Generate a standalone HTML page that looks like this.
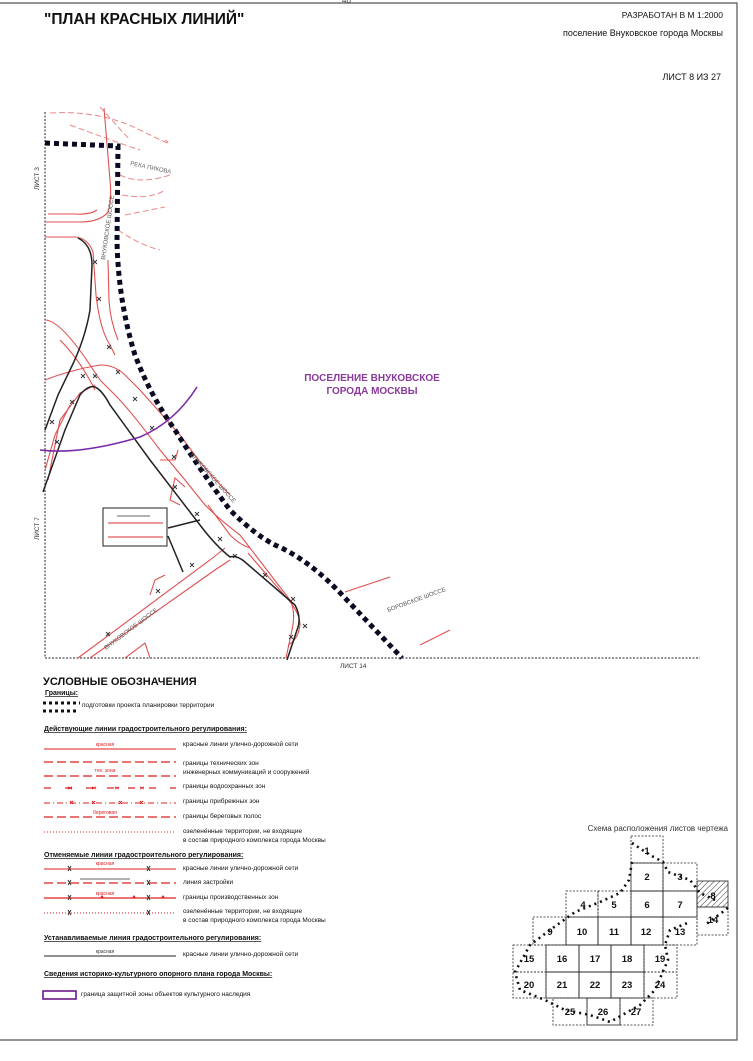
<!DOCTYPE html>
<html><head><meta charset="utf-8"><style>
body{margin:0;background:#fff;width:753px;height:1061px;overflow:hidden}
svg{display:block}
text{font-family:"Liberation Sans",sans-serif}
</style></head><body>
<svg width="753" height="1061" viewBox="0 0 753 1061" xmlns="http://www.w3.org/2000/svg">
<!-- page border -->
<path d="M0 3 H737 V1040 H0" fill="none" stroke="#555" stroke-width="1.2"/>
<text x="342" y="3" font-size="8" fill="#444">40</text>
<!-- header -->
<text x="44" y="24" font-size="15.5" font-weight="bold" fill="#111">"ПЛАН КРАСНЫХ ЛИНИЙ"</text>
<text x="723" y="18" font-size="8.5" text-anchor="end" fill="#111">РАЗРАБОТАН В М 1:2000</text>
<text x="723" y="36" font-size="9" text-anchor="end" fill="#111">поселение Внуковское города Москвы</text>
<text x="721" y="80" font-size="9" text-anchor="end" fill="#111">ЛИСТ 8 ИЗ 27</text>

<!-- map frame -->
<line x1="45" y1="112" x2="45" y2="658" stroke="#222" stroke-width="1" stroke-dasharray="2,1.5"/>
<line x1="45" y1="658" x2="700" y2="658" stroke="#222" stroke-width="1" stroke-dasharray="2,1.5"/>
<text transform="translate(39,190) rotate(-90)" font-size="6.5" fill="#333">ЛИСТ 3</text>
<text transform="translate(39,540) rotate(-90)" font-size="6.5" fill="#333">ЛИСТ 7</text>
<text x="340" y="668" font-size="6.5" fill="#333">ЛИСТ 14</text>

<!-- faint background red dashed lines top -->
<g fill="none" stroke="#e88" stroke-width="1" stroke-dasharray="6,3">
<path d="M50 113 Q100 110 140 130 T165 140"/>
<path d="M70 125 Q110 140 140 150"/>
<path d="M120 175 Q140 185 170 175"/>
<path d="M122 195 Q150 200 165 190"/>
<path d="M125 215 Q150 210 165 207"/>
<path d="M118 230 Q140 245 160 250"/>
<path d="M100 107 L130 140"/>
</g>
<g fill="none" stroke="#e05050" stroke-width="1.1">
<path d="M104 108 L110 180 Q112 200 108 212 Q100 222 80 222 H45"/>
<path d="M97 210 Q90 215 75 214 H48"/>
<path d="M45 237 H75 Q88 238 93 252 L96 295 Q100 330 110 345 L115 355"/>
<path d="M108 260 L109 300 Q110 320 118 340"/>
<path d="M45 320 Q60 320 90 365 L100 380 L115 395 Q130 410 160 450 L185 480 L205 505 Q220 520 240 535"/>
<path d="M60 340 Q80 360 95 390"/>
<path d="M45 380 Q70 370 100 365 Q115 365 125 375 L140 390 L180 435 L200 462 Q215 480 230 495"/>
<path d="M48 480 L60 420 L80 393 L95 385"/>
<path d="M45 470 L55 435 L70 405"/>
<path d="M185 487 L175 478 L170 500 L180 505"/>
<path d="M160 460 L175 460 L178 450"/>
<path d="M208 505 L230 535 Q240 545 250 548"/>
<path d="M240 535 L290 600 Q296 612 292 630 L286 658"/>
<path d="M248 553 L285 596 Q300 612 300 625 Q298 640 288 645"/>
<path d="M78 658 L210 560 L225 548"/>
<path d="M90 658 L215 570 L230 560"/>
<path d="M150 595 L155 580 L165 575"/>
<path d="M125 658 L145 643 L150 658"/>
<path d="M345 592 L390 577"/>
<path d="M420 645 Q440 635 450 630"/>
</g>
<!-- x marks -->
<g stroke="#333" stroke-width="0.9">
<path d="M93 260 l4 4 m0 -4 l-4 4"/><path d="M97 297 l4 4 m0 -4 l-4 4"/><path d="M107 345 l4 4 m0 -4 l-4 4"/>
<path d="M81 374 l4 4 m0 -4 l-4 4"/><path d="M93 374 l4 4 m0 -4 l-4 4"/><path d="M116 370 l4 4 m0 -4 l-4 4"/>
<path d="M50 420 l4 4 m0 -4 l-4 4"/><path d="M55 440 l4 4 m0 -4 l-4 4"/><path d="M70 400 l4 4 m0 -4 l-4 4"/>
<path d="M133 397 l4 4 m0 -4 l-4 4"/><path d="M150 426 l4 4 m0 -4 l-4 4"/><path d="M172 455 l4 4 m0 -4 l-4 4"/>
<path d="M173 485 l4 4 m0 -4 l-4 4"/><path d="M195 512 l4 4 m0 -4 l-4 4"/><path d="M218 537 l4 4 m0 -4 l-4 4"/>
<path d="M233 554 l4 4 m0 -4 l-4 4"/><path d="M263 573 l4 4 m0 -4 l-4 4"/><path d="M291 597 l4 4 m0 -4 l-4 4"/>
<path d="M303 624 l4 4 m0 -4 l-4 4"/><path d="M289 635 l4 4 m0 -4 l-4 4"/><path d="M190 563 l4 4 m0 -4 l-4 4"/>
<path d="M156 589 l4 4 m0 -4 l-4 4"/><path d="M106 632 l4 4 m0 -4 l-4 4"/>
</g>
<!-- black lines -->
<g fill="none" stroke="#222" stroke-width="1.5">
<path d="M78 238 Q92 245 92 265 L90 310 Q85 340 70 370 L58 395 L45 430"/>
<path d="M43 492 L65 430 L80 395 Q88 385 95 387 Q102 390 110 405 L150 460 L200 525 Q215 545 230 557 Q237 555 245 562 L295 605 Q302 618 297 630 L287 660"/>
<path d="M168 528 L200 520"/><path d="M168 536 L183 572"/>
</g>
<!-- purple -->
<path d="M40 450 Q80 455 140 437 Q175 422 197 387" fill="none" stroke="#7a2aa8" stroke-width="1.6"/>
<!-- dotted boundary -->
<path d="M45 143 L118 146 L117 240 Q118 300 135 355 Q150 395 175 430 Q200 470 230 510 Q255 535 275 545 Q310 560 345 598 L402 658" fill="none" stroke="#0a0a22" stroke-width="5" stroke-dasharray="5,4"/>
<!-- inset box -->
<rect x="103" y="508" width="64" height="38" fill="#fff" stroke="#222" stroke-width="1"/>
<line x1="117" y1="516" x2="150" y2="516" stroke="#333" stroke-width="0.8"/>
<line x1="108" y1="523" x2="163" y2="523" stroke="#d33" stroke-width="1"/>
<line x1="108" y1="537" x2="163" y2="537" stroke="#d33" stroke-width="1"/>
<!-- map labels -->
<text x="372" y="381" font-size="10" font-weight="bold" fill="#8a3a9a" text-anchor="middle">ПОСЕЛЕНИЕ ВНУКОВСКОЕ</text>
<text x="372" y="394" font-size="10" font-weight="bold" fill="#8a3a9a" text-anchor="middle">ГОРОДА МОСКВЫ</text>
<text transform="translate(130,165) rotate(12)" font-size="6" fill="#666">РЕКА ПИКОВА</text>
<text transform="translate(105,260) rotate(-82)" font-size="6" fill="#555">ВНУКОВСКОЕ ШОССЕ</text>
<text transform="translate(190,455) rotate(48)" font-size="6" fill="#555">ВНУКОВСКОЕ ШОССЕ</text>
<text transform="translate(388,612) rotate(-20)" font-size="6" fill="#555">БОРОВСКОЕ ШОССЕ</text>
<text transform="translate(106,650) rotate(-37)" font-size="6" fill="#555">ВНУКОВСКОЕ ШОССЕ</text>

<!-- legend -->
<g fill="#111">
<text x="43" y="685" font-size="11" font-weight="bold">УСЛОВНЫЕ ОБОЗНАЧЕНИЯ</text>
<text x="45" y="695" font-size="7" font-weight="bold" text-decoration="underline">Границы:</text>
<text x="82" y="707" font-size="6.5">подготовки проекта планировки территории</text>
<text x="44" y="731" font-size="7" font-weight="bold" text-decoration="underline">Действующие линии градостроительного регулирования:</text>
<text x="183" y="746" font-size="6.5">красные линии улично-дорожной сети</text>
<text x="183" y="765" font-size="6.5">границы технических зон</text>
<text x="183" y="774" font-size="6.5">инженерных коммуникаций и сооружений</text>
<text x="183" y="788" font-size="6.5">границы водоохранных зон</text>
<text x="183" y="803" font-size="6.5">границы прибрежных зон</text>
<text x="183" y="818" font-size="6.5">границы береговых полос</text>
<text x="183" y="833" font-size="6.5">озеленённые территории, не входящие</text>
<text x="183" y="842" font-size="6.5">в состав природного комплекса города Москвы</text>
<text x="44" y="857" font-size="7" font-weight="bold" text-decoration="underline">Отменяемые линии градостроительного регулирования:</text>
<text x="183" y="870" font-size="6.5">красные линии улично-дорожной сети</text>
<text x="183" y="884" font-size="6.5">линия застройки</text>
<text x="183" y="899" font-size="6.5">границы производственных зон</text>
<text x="183" y="913" font-size="6.5">озеленённые территории, не входящие</text>
<text x="183" y="922" font-size="6.5">в состав природного комплекса города Москвы</text>
<text x="44" y="940" font-size="7" font-weight="bold" text-decoration="underline">Устанавливаемые линия градостроительного регулирования:</text>
<text x="183" y="956" font-size="6.5">красные линии улично-дорожной сети</text>
<text x="44" y="976" font-size="7" font-weight="bold" text-decoration="underline">Сведения историко-культурного опорного плана города Москвы:</text>
<text x="81" y="996" font-size="6.5">граница защитной зоны объектов культурного наследия</text>
</g>
<g fill="none">
<path d="M43 703 H80" stroke="#111" stroke-width="3" stroke-dasharray="3,3"/>
<path d="M43 711 H78" stroke="#111" stroke-width="3" stroke-dasharray="3,3"/>
<line x1="44" y1="749" x2="176" y2="749" stroke="#d22" stroke-width="1"/>
<line x1="44" y1="762" x2="176" y2="762" stroke="#d22" stroke-width="1.2" stroke-dasharray="9,4"/>
<line x1="44" y1="776" x2="176" y2="776" stroke="#d22" stroke-width="1.2" stroke-dasharray="9,4"/>
<line x1="44" y1="788" x2="176" y2="788" stroke="#d22" stroke-width="1.2" stroke-dasharray="7,14"/>
<line x1="44" y1="803" x2="176" y2="803" stroke="#d22" stroke-width="1" stroke-dasharray="6,3,1,3"/>
<line x1="44" y1="817" x2="176" y2="817" stroke="#d22" stroke-width="1.2" stroke-dasharray="9,4"/>
<line x1="44" y1="832" x2="176" y2="832" stroke="#d22" stroke-width="1" stroke-dasharray="1,2"/>
<line x1="44" y1="869" x2="176" y2="869" stroke="#d22" stroke-width="1"/>
<line x1="44" y1="883" x2="176" y2="883" stroke="#d22" stroke-width="1.2" stroke-dasharray="9,4"/>
<line x1="44" y1="898" x2="176" y2="898" stroke="#d22" stroke-width="1.2"/>
<line x1="44" y1="913" x2="176" y2="913" stroke="#d22" stroke-width="1" stroke-dasharray="1,2"/>
<line x1="44" y1="956" x2="176" y2="956" stroke="#222" stroke-width="1"/>
<rect x="43" y="991" width="33" height="8" stroke="#6a1a8a" stroke-width="1.6"/>
</g>
<g font-size="5" fill="#d22" text-anchor="middle">
<text x="105" y="746">красная</text><text x="105" y="772">тех. зона</text><text x="105" y="814">береговая</text>
<text x="105" y="865">красная</text><text x="105" y="895">красная</text><text x="105" y="953" fill="#333">красная</text>
</g>
<g stroke="#d22" stroke-width="1"><path d="M68 787 l4 2 m0-2 l-4 2 M92 787 l4 2 m0-2 l-4 2 M115 787 l4 2 m0-2 l-4 2 M140 787 l4 2 m0-2 l-4 2 M70 801 l3 3 m0-3 l-3 3 M92 801 l3 3 m0-3 l-3 3 M119 801 l3 3 m0-3 l-3 3 M140 801 l3 3 m0-3 l-3 3"/></g>
<g stroke="#333" stroke-width="1"><path d="M68 866 l3 5 m0-5 l-3 5 M147 866 l3 5 m0-5 l-3 5 M68 880 l3 5 m0-5 l-3 5 M147 880 l3 5 m0-5 l-3 5 M68 895 l3 5 m0-5 l-3 5 M147 895 l3 5 m0-5 l-3 5 M68 910 l3 5 m0-5 l-3 5 M147 910 l3 5 m0-5 l-3 5"/></g>
<line x1="80" y1="879" x2="130" y2="879" stroke="#333" stroke-width="0.8"/>
<g fill="#d22"><path d="M100 898 l2 -3 l2 3z M132 898 l2 -3 l2 3z M161 898 l2 -3 l2 3z"/></g>

<!-- sheet scheme -->
<text x="728" y="831" font-size="8" fill="#333" text-anchor="end">Схема расположения листов чертежа</text>
<g fill="none" stroke="#222" stroke-width="0.8">
<defs><pattern id="h" width="4" height="4" patternUnits="userSpaceOnUse" patternTransform="rotate(45)"><line x1="0" y1="0" x2="0" y2="4" stroke="#333" stroke-width="1"/></pattern></defs>
<rect x="697" y="881" width="31" height="26" fill="url(#h)"/>
<g stroke-dasharray="2,1.5">
<rect x="631" y="836" width="32" height="27"/><rect x="663" y="863" width="34" height="28"/>
<rect x="566" y="891" width="32" height="26"/><rect x="598" y="891" width="33" height="26"/>
<rect x="697" y="907" width="31" height="28"/><rect x="533" y="917" width="33" height="28"/>
<rect x="513" y="945" width="33" height="27"/><rect x="513" y="972" width="33" height="26"/>
<rect x="644" y="945" width="33" height="27"/><rect x="644" y="972" width="33" height="26"/>
<rect x="553" y="998" width="34" height="27"/><rect x="620" y="998" width="33" height="27"/>
<rect x="663" y="917" width="34" height="28"/>
</g>
<rect x="631" y="863" width="32" height="28"/>
<rect x="631" y="891" width="32" height="26"/><rect x="663" y="891" width="34" height="26"/>
<rect x="566" y="917" width="32" height="28"/><rect x="598" y="917" width="33" height="28"/><rect x="631" y="917" width="32" height="28"/>
<rect x="546" y="945" width="33" height="27"/><rect x="579" y="945" width="32" height="27"/><rect x="611" y="945" width="33" height="27"/>
<rect x="546" y="972" width="33" height="26"/><rect x="579" y="972" width="32" height="26"/><rect x="611" y="972" width="33" height="26"/>
<rect x="587" y="998" width="33" height="27"/>
</g>
<path d="M632 843 L650 855 L663 862 L668 872 L690 880 L700 893 L715 900 M728 908 L705 925 M632 862 L629 880 L620 893 L600 902 L575 912 L550 930 L530 945 L515 972 L520 990 L545 1000 L565 1010 L590 1015 L610 1022 L640 1005 L655 990 L668 960 L665 945 L670 930 L690 922"
 fill="none" stroke="#111" stroke-width="2.6" stroke-dasharray="2,4"/>
<g font-size="9.5" font-weight="bold" fill="#111" text-anchor="middle">
<text x="647" y="854">1</text><text x="647" y="880">2</text><text x="680" y="880">3</text>
<text x="583" y="908">4</text><text x="614" y="908">5</text><text x="647" y="908">6</text><text x="680" y="908">7</text><text x="713" y="899">8</text>
<text x="550" y="935">9</text><text x="582" y="935">10</text><text x="614" y="935">11</text><text x="646" y="935">12</text><text x="680" y="935">13</text><text x="713" y="923">14</text>
<text x="529" y="962">15</text><text x="562" y="962">16</text><text x="595" y="962">17</text><text x="627" y="962">18</text><text x="660" y="962">19</text>
<text x="529" y="988">20</text><text x="562" y="988">21</text><text x="595" y="988">22</text><text x="627" y="988">23</text><text x="660" y="988">24</text>
<text x="570" y="1015">25</text><text x="603" y="1015">26</text><text x="636" y="1015">27</text>
</g>
</svg>
</body></html>
